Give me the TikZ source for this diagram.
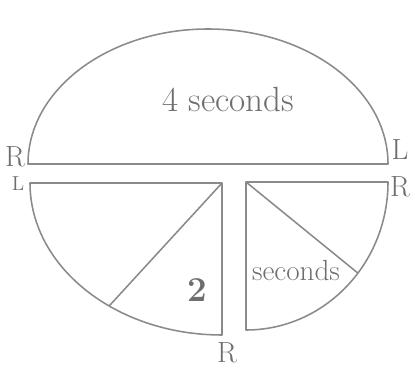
\documentclass[tikz,border=0pt]{standalone}
\usepackage{tikz}
\usetikzlibrary{calc}
\usepackage{xcolor}
\definecolor{pencil}{HTML}{8a8a8a}
\definecolor{lead}{HTML}{6e6e6e}

\begin{document}
\begin{tikzpicture}[x=0.025cm,y=0.025cm,line width=1.1pt,line join=round]
  \useasboundingbox (0,0) rectangle (412,368);
  \coordinate (T) at (208,204);
  \coordinate (C1) at (222,185);
  \coordinate (C2) at (246,186);
  % top half: 4 seconds
  \draw[pencil] ($(T)+(-180,0)$) arc[start angle=180,end angle=0,x radius=180,y radius=135] -- cycle;
  \node[lead] (four) at (228,268) {\Huge 4 seconds};
  \node[lead] (tl) at (15,211) {\huge R};
  \node[lead] (tr) at (400,218) {\huge L};
  % bottom left quarter: 2
  \draw[pencil] (C1) -- ($(C1)+(-192,0)$) arc[start angle=180,end angle=270,x radius=192,y radius=152] -- cycle;
  \draw[pencil] (C1) -- ($(C1)+(234:192 and 152)$);
  \node[lead] (two) at (197,78) {\Huge\bfseries 2};
  \node[lead] (bl) at (18,184) {\Large L};
  \node[lead] (bm) at (227,15) {\huge R};
  % bottom right quarter: seconds
  \draw[pencil] (C2) -- ($(C2)+(142,0)$) arc[start angle=0,end angle=-90,x radius=142,y radius=148] -- cycle;
  \draw[pencil] (C2) -- ($(C2)+(-38:142 and 148)$);
  \node[lead] (secs) at (296,98) {\huge seconds};
  \node[lead] (br) at (400,181) {\huge R};
\end{tikzpicture}
\end{document}
